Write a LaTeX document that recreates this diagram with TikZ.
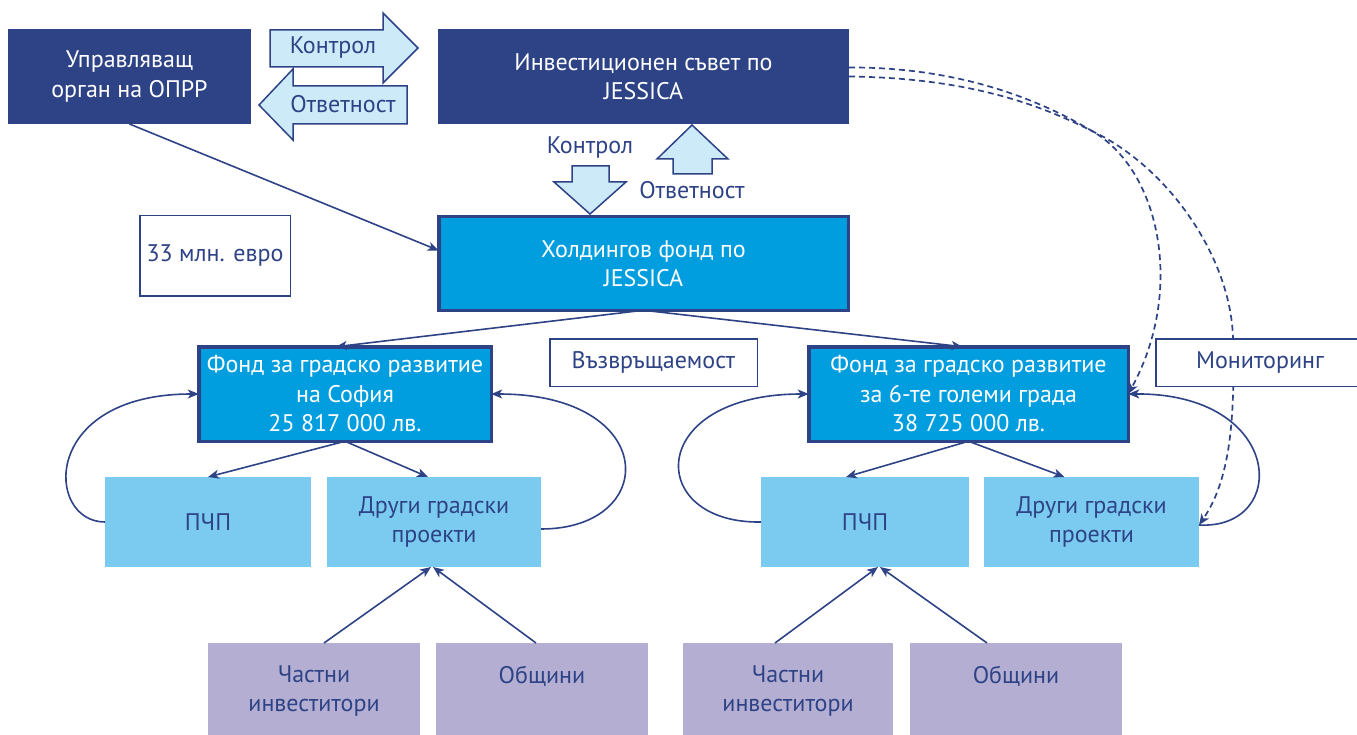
\documentclass[tikz,border=0pt]{standalone}
\usepackage{fontspec}
\setmainfont{PT Sans}
\usetikzlibrary{arrows.meta}
\definecolor{navy}{HTML}{2E4386}
\definecolor{cyanbox}{HTML}{009EDF}
\definecolor{lightbox}{HTML}{7ACBEF}
\definecolor{purplebox}{HTML}{B4AED3}
\definecolor{arrowfill}{HTML}{CDEAF9}
\begin{document}
\begin{tikzpicture}[x=1pt,y=-1pt,
  font=\fontsize{24}{29.5}\selectfont,
  box/.style={inner sep=0pt, outer sep=0pt, align=center},
  darkbox/.style={box, fill=navy, text=white},
  fundbox/.style={box, fill=cyanbox, draw=navy, line width=3.5pt, text=white},
  whitebox/.style={box, fill=white, draw=navy, line width=1.5pt, text=navy},
  lightnode/.style={box, fill=lightbox, text=navy},
  purplenode/.style={box, fill=purplebox, text=navy},
  lbl/.style={inner sep=0pt, text=navy},
  blockarrow/.style={fill=arrowfill, draw=navy, line width=1.5pt, line join=miter},
  conn/.style={draw=navy, line width=1.6pt, -{Stealth[length=11pt,width=9pt,inset=3pt]}},
  dashconn/.style={draw=navy, line width=1.7pt, dash pattern=on 6pt off 4pt, -{Stealth[length=11pt,width=9pt,inset=3pt]}}
]
\useasboundingbox (0,0) rectangle (1357,735);
\begin{scope}
\clip (0,0) rectangle (1357,735);

% block arrows (top)
\draw[blockarrow] (270,30) -- (383,30) -- (383,13) -- (418,48) -- (383,83) -- (383,67) -- (270,67) -- cycle;
\draw[blockarrow] (407,86) -- (293,86) -- (293,69) -- (259,105) -- (293,140) -- (293,124) -- (407,124) -- cycle;
\node[lbl] (kontrol1) at (333,48) {Контрол};
\node[lbl] (otg1) at (343,104) {Ответност};

% vertical block arrows
\draw[blockarrow] (572,166) -- (609,166) -- (609,182) -- (626,182) -- (590,214) -- (554,182) -- (572,182) -- cycle;
\draw[blockarrow] (692,125) -- (728,159) -- (712,159) -- (712,174) -- (673,174) -- (673,159) -- (657,159) -- cycle;
\node[lbl] (kontrol2) at (590,148) {Контрол};
\node[lbl] (otg2) at (692,190) {Ответност};

% top boxes
\node[darkbox, minimum width=243pt, minimum height=95pt] (upr) at (129.5,76.5) {Управляващ\\орган на ОПРР};
\node[darkbox, minimum width=411pt, minimum height=95pt] (inv) at (643.5,76.5) {Инвестиционен съвет по\\JESSICA};

% holding and funds
\node[fundbox, minimum width=409.5pt, minimum height=93.5pt] (hold) at (643.5,263.5) {Холдингов фонд по\\JESSICA};
\node[whitebox, minimum width=150.5pt, minimum height=80.5pt] (mln) at (215,256) {33 млн. евро};
\node[fundbox, minimum width=292.5pt, minimum height=94.5pt] (sof) at (345,394) {Фонд за градско развитие\\на София\\25 817 000 лв.};
\node[fundbox, minimum width=319.5pt, minimum height=94.5pt] (f6) at (968.5,394) {Фонд за градско развитие\\за 6-те големи града\\38 725 000 лв.};
\node[whitebox, minimum width=207.5pt, minimum height=47.5pt] (vaz) at (653.5,362.5) {Възвръщаемост};

% project boxes
\node[lightnode, minimum width=206pt, minimum height=90pt] (pcp1) at (208,522) {ПЧП};
\node[lightnode, minimum width=214pt, minimum height=90pt] (dr1) at (434,522) {Други градски\\проекти};
\node[lightnode, minimum width=208pt, minimum height=90pt] (pcp2) at (865,522) {ПЧП};
\node[lightnode, minimum width=215pt, minimum height=90pt] (dr2) at (1091.5,522) {Други градски\\проекти};

% investor boxes
\node[purplenode, minimum width=212pt, minimum height=96pt] (ch1) at (314,691) {Частни\\инвеститори};
\node[purplenode, minimum width=212pt, minimum height=96pt] (ob1) at (542,691) {};
\node[lbl] (ob1t) at (542,676) {Общини};
\node[purplenode, minimum width=210pt, minimum height=96pt] (ch2) at (788,691) {Частни\\инвеститори};
\node[purplenode, minimum width=212pt, minimum height=96pt] (ob2) at (1016,691) {};
\node[lbl] (ob2t) at (1016,676) {Общини};

% connectors
\draw[conn] (upr.south) -- ([yshift=13pt]hold.west);
\draw[conn] (hold.south) -- ([xshift=-9pt]sof.north);
\draw[conn] (hold.south) -- ([xshift=-6pt]f6.north);
\draw[conn] (sof.south) -- (pcp1.north);
\draw[conn] (sof.south) -- ([xshift=-6pt]dr1.north);
\draw[conn] (f6.south) -- ([xshift=-19pt]pcp2.north);
\draw[conn] (f6.south) -- ([xshift=-27pt]dr2.north);

\draw[conn] ([xshift=10pt]ch1.north) -- ([xshift=-3pt]dr1.south);
\draw[conn] ([xshift=-6pt]ob1.north) -- ([xshift=-1pt]dr1.south);
\draw[conn] ([xshift=-13pt]ch2.north) -- ([xshift=13pt]pcp2.south);
\draw[conn] ([xshift=-29pt]ob2.north) -- ([xshift=15pt]pcp2.south);

% return loops
\draw[conn] (pcp1.west) .. controls (45,522) and (40,394) .. (sof.west);
\draw[conn] ([yshift=-7pt]dr1.east) .. controls (660,529) and (660,394) .. (sof.east);
\draw[conn] (pcp2.west) .. controls (645,524) and (645,394) .. (f6.west);
\draw[conn] ([yshift=-3pt]dr2.east) .. controls (1290,530) and (1285,393) .. (f6.east);

% monitoring (dashed)
\coordinate (cross) at (1092,131);
\coordinate (dC) at (1233,340);
\draw[dashconn] ([yshift=9pt]inv.east) .. controls (960,67) and (1040,100) .. (cross) .. controls (1160,170) and (1185,290) .. (f6.east);
\draw[dashconn] (inv.east) .. controls (970,78) and (1040,105) .. (cross) .. controls (1170,168) and (1232,260) .. (dC) .. controls (1235,420) and (1230,480) .. ([yshift=-3pt]dr2.east);
\node[whitebox, minimum width=208.5pt, minimum height=47.5pt] (mon) at (1260,362.5) {Мониторинг};

\end{scope}
\end{tikzpicture}
\end{document}
